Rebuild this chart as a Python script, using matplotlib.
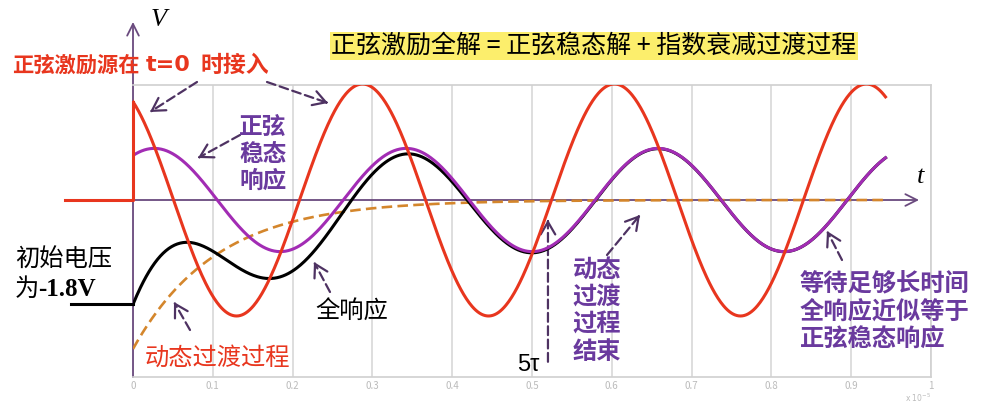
import numpy as np
import matplotlib
matplotlib.use('Agg')
from matplotlib import pyplot as plt

plt.rcParams['font.family'] = ['Noto Sans CJK SC', 'DejaVu Sans']

# 参数 (电压 V, 时间单位 1e-5 s)
omega = 19.9          # 角频率
src_amp = 2.0         # 正弦激励幅值
src_phase = 2.13      # 正弦激励初相
ss_amp = 0.89         # 正弦稳态响应幅值
ss_phase = 1.04       # 正弦稳态响应初相
tau = 0.104           # 时间常数
v0 = -1.8             # 初始电压
t_end = 0.943         # 曲线结束时间
t_before = -0.085     # t<0 段的起点
t_5tau = 5 * tau

xticks = [0, 0.1, 0.2, 0.3, 0.4, 0.5, 0.6, 0.7, 0.8, 0.9, 1]
xtick_labels = ['0', '0.1', '0.2', '0.3', '0.4', '0.5', '0.6', '0.7', '0.8', '0.9', '1']

# 曲线
t = np.linspace(0, t_end, 800)
source = src_amp * np.sin(omega * t + src_phase)
steady = ss_amp * np.sin(omega * t + ss_phase)
transient = (v0 - steady[0]) * np.exp(-t / tau)
full = steady + transient

W, H = 1001, 403
fig = plt.figure(figsize=(W / 100, H / 100), dpi=100)
ax = fig.add_axes([133 / W, (H - 377) / H, (931 - 133) / W, (377 - 85) / H])
ax.set_xlim(0, 1)
ax.set_ylim(-3.052, 1.983)

red = '#E8361E'
purple = '#A22CB4'
orange = '#D4862C'
txt_purple = '#6A3A9E'
arrow_c = '#4E3262'
axis_c = '#6A4A7E'

ax.plot(t, transient, color=orange, lw=1.9, dashes=(4, 2), zorder=3)
ax.plot(t, full, color='black', lw=2.2, zorder=4)
ax.plot([t_before + 0.007, 0], [v0, v0], color='black', lw=2.2, zorder=4, clip_on=False)
ax.plot(t, steady, color=purple, lw=2.2, zorder=5)
ax.plot(t, source, color=red, lw=2.2, zorder=6)
ax.plot([t_before, 0, 0], [0, 0, source[0]], color=red, lw=2.2, zorder=6, clip_on=False)

# 坐标轴
for s in ['top', 'right', 'bottom']:
    ax.spines[s].set_color('#D0D0D0')
    ax.spines[s].set_linewidth(1.2)
ax.spines['left'].set_visible(False)
ax.set_yticks([])
ax.set_xticks(xticks)
ax.set_xticklabels(xtick_labels)
ax.tick_params(axis='x', length=0, pad=3, labelsize=7, labelcolor='#BBBBBB')
ax.grid(axis='x', color='#D8D8D8', lw=1.2)
ax.set_axisbelow(True)

ax.annotate('', xy=(0, 3.07), xytext=(0, -3.052),
            arrowprops=dict(arrowstyle='->,head_length=0.6,head_width=0.3', color=axis_c, lw=1.3,
                            shrinkA=0, shrinkB=0, mutation_scale=14),
            annotation_clip=False, zorder=2)
ax.annotate('', xy=(0.985, 0), xytext=(0, 0),
            arrowprops=dict(arrowstyle='->,head_length=0.6,head_width=0.3', color=axis_c, lw=1.3,
                            shrinkA=0, shrinkB=0, mutation_scale=14),
            annotation_clip=False, zorder=2)


def ftext(x, y, s, **kw):
    fig.text(x / W, 1 - y / H, s, **kw)


def arrow(x0, y0, x1, y1, coords='pixel'):
    if coords == 'pixel':
        p0 = np.array([x0, H - y0], float)
        p1 = np.array([x1, H - y1], float)
    else:
        p0 = ax.transData.transform((x0, y0))
        p1 = ax.transData.transform((x1, y1))
    d = (p1 - p0) / np.hypot(*(p1 - p0))
    ax.annotate('', xy=p1 - d * 3, xytext=p0, xycoords='figure pixels',
                arrowprops=dict(arrowstyle='-', lw=1.6, color=arrow_c, linestyle=(0, (4, 2)),
                                shrinkA=0, shrinkB=0),
                annotation_clip=False)
    ax.annotate('', xy=p1, xytext=p1 - d * 2, xycoords='figure pixels',
                arrowprops=dict(arrowstyle='->,head_length=0.6,head_width=0.35', lw=1.6,
                                color=arrow_c, shrinkA=0, shrinkB=0, mutation_scale=15),
                annotation_clip=False)


# 文字
ftext(12, 65, '正弦激励源在', color=red, fontsize=15.3, weight='bold', va='center')
ftext(168, 65, 't=0', color=red, fontsize=16, weight='bold', va='center', ha='center',
      family='DejaVu Sans')
ftext(200, 65, '时接入', color=red, fontsize=16.5, weight='bold', va='center')

ftext(594, 46, '正弦激励全解 = 正弦稳态解 + 指数衰减过渡过程', fontsize=18, ha='center', va='center',
      bbox=dict(facecolor='#FCEE6C', edgecolor='none', pad=0.8))

ftext(263, 154, '正弦\n稳态\n响应', color=txt_purple, fontsize=17, weight='bold',
      ha='center', va='center', linespacing=1.17)

ftext(15, 260, '初始电压', fontsize=17.5, va='center')
ftext(15, 289, '为', fontsize=17.5, va='center')
ftext(38, 289, '-1.8V', fontsize=18, va='center', weight='bold', family='Liberation Serif')

ftext(145, 358, '动态过渡过程', color=red, fontsize=17.5, va='center')
ftext(315, 312, '全响应', fontsize=17.5, va='center')
ftext(597, 311, '动态\n过渡\n过程\n结束', color=txt_purple, fontsize=17.5, weight='bold',
      ha='center', va='center', linespacing=1.18)
ftext(800, 312, '等待足够长时间\n全响应近似等于\n正弦稳态响应', color=txt_purple, fontsize=17.5,
      weight='bold', ha='left', va='center', linespacing=1.18)

ftext(159, 20, 'V', fontsize=19, style='italic', family='Liberation Serif', ha='center', va='center')
ftext(921, 177, 't', fontsize=19, style='italic', family='Liberation Serif', ha='center', va='center')
ftext(528, 365, '5τ', fontsize=17, family='Liberation Sans', ha='center', va='center')
ftext(931, 398, 'x 10$^{-5}$', fontsize=5.5, color='#BBBBBB', ha='right', va='center',
      family='DejaVu Sans')

# 箭头
arrow(197, 82, 150, 112)
arrow(267, 82, 328, 103)
arrow(240, 135, 198, 158)
arrow(190, 330, 174, 302)
arrow(330, 292, 314, 262)
arrow(t_5tau, -2.79, t_5tau, -0.34, coords='data')
arrow(607, 255, 640, 215)
arrow(842, 260, 827, 231)

fig.savefig('out.png', dpi=100)
